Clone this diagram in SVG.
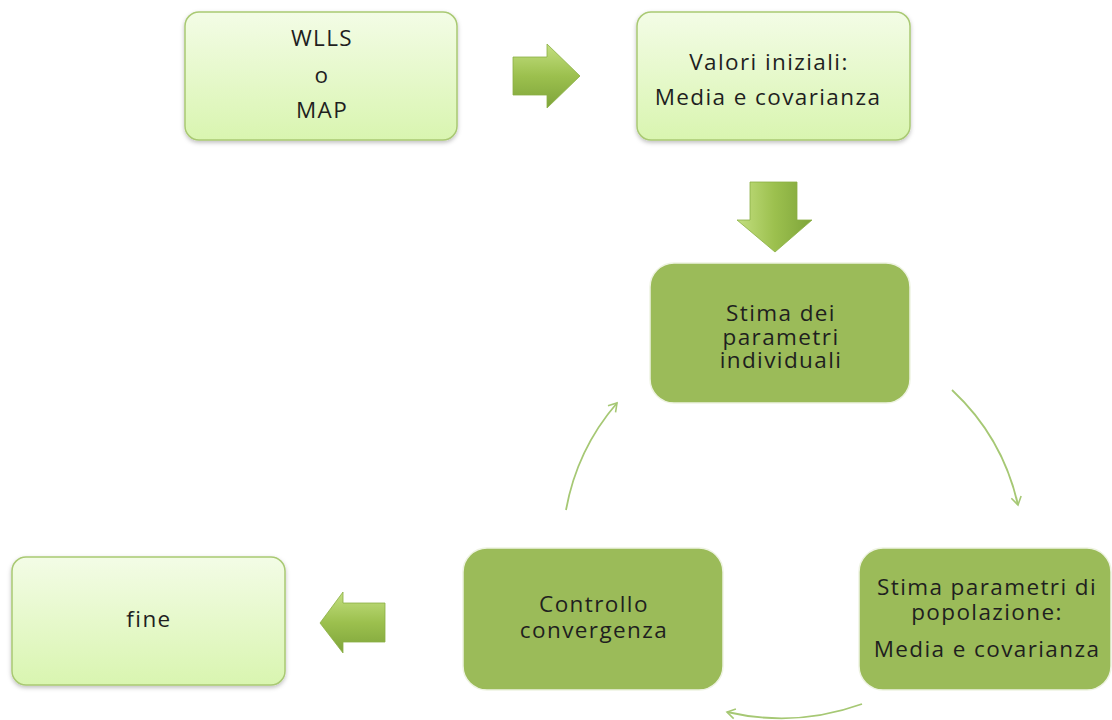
<svg xmlns="http://www.w3.org/2000/svg" width="1112" height="720" viewBox="0 0 1112 720">
<defs>
<linearGradient id="lightG" x1="0" y1="0" x2="0" y2="1">
<stop offset="0" stop-color="#f3fce6"/>
<stop offset="1" stop-color="#d9f5b0"/>
</linearGradient>
<linearGradient id="arrG" x1="0" y1="0" x2="0" y2="1">
<stop offset="0" stop-color="#c3df80"/>
<stop offset="0.5" stop-color="#9cc04e"/>
<stop offset="1" stop-color="#7ea43a"/>
</linearGradient>
<linearGradient id="arrGv" x1="0" y1="0" x2="1" y2="0">
<stop offset="0" stop-color="#c3df80"/>
<stop offset="0.5" stop-color="#9cc04e"/>
<stop offset="1" stop-color="#7ea43a"/>
</linearGradient>
<filter id="sh" x="-10%" y="-10%" width="120%" height="130%">
<feDropShadow dx="0" dy="2" stdDeviation="2" flood-color="#000" flood-opacity="0.25"/>
</filter>
<marker id="chev" viewBox="0 0 12 12" refX="10" refY="6" markerWidth="12" markerHeight="12" markerUnits="userSpaceOnUse" orient="auto">
<path d="M2,1 L10,6 L2,11" fill="none" stroke="#a6c874" stroke-width="1.6"/>
</marker>
</defs>
<style>
.light{fill:url(#lightG);stroke:#a9c973;stroke-width:1.5;filter:url(#sh)}
.dark{fill:#9bbb59;stroke:#eef3e2;stroke-width:1.5}
.t{font-family:"Open Sans","Liberation Sans",sans-serif;font-size:22.5px;letter-spacing:1.4px;fill:#1f1f1f;text-anchor:middle}
.conn{fill:none;stroke:#a6c874;stroke-width:1.8;marker-end:url(#chev)}
.blk{stroke:#8aae44;stroke-width:0.8}
</style>
<rect width="1112" height="720" fill="#ffffff"/>

<g id="connectors">
<polygon id="arrow-right" class="blk" fill="url(#arrG)" points="513,57 547,57 547,44 580,76 547,108 547,95 513,95"/>
<polygon id="arrow-down" class="blk" fill="url(#arrGv)" points="750,182 797,182 797,220 812,220 775,252 737,220 750,220"/>
<polygon id="arrow-left" class="blk" fill="url(#arrG)" points="385,603 343,603 343,592 320,623 343,653 343,642 385,642"/>
<path class="conn" d="M952,390 A 225 225 0 0 1 1018,505"/>
<path class="conn" d="M862,704 A 240 240 0 0 1 727,712"/>
<path class="conn" d="M566,510 A 225 225 0 0 1 617,403"/>
</g>

<g id="node-wlls">
<rect class="light" x="185" y="12" width="272" height="128" rx="14"/>
<text class="t" x="322" y="46">WLLS</text>
<text class="t" x="322" y="83">o</text>
<text class="t" x="322" y="118">MAP</text>
</g>

<g id="node-valori">
<rect class="light" x="637" y="12" width="273" height="128" rx="14"/>
<text class="t" x="769" y="70">Valori iniziali:</text>
<text class="t" x="768" y="105">Media e covarianza</text>
</g>

<g id="node-stima-ind">
<rect class="dark" x="650" y="263" width="260" height="140" rx="24"/>
<text class="t" x="781" y="321">Stima dei</text>
<text class="t" x="781" y="345">parametri</text>
<text class="t" x="781" y="368">individuali</text>
</g>

<g id="node-stima-pop">
<rect class="dark" x="859" y="548" width="252" height="142" rx="24"/>
<text class="t" x="987" y="595">Stima parametri di</text>
<text class="t" x="987" y="620">popolazione:</text>
<text class="t" x="987" y="657">Media e covarianza</text>
</g>

<g id="node-controllo">
<rect class="dark" x="463" y="548" width="260" height="142" rx="24"/>
<text class="t" x="594" y="612">Controllo</text>
<text class="t" x="594" y="638">convergenza</text>
</g>

<g id="node-fine">
<rect class="light" x="12" y="557" width="273" height="128" rx="14"/>
<text class="t" x="149" y="627">fine</text>
</g>
</svg>
